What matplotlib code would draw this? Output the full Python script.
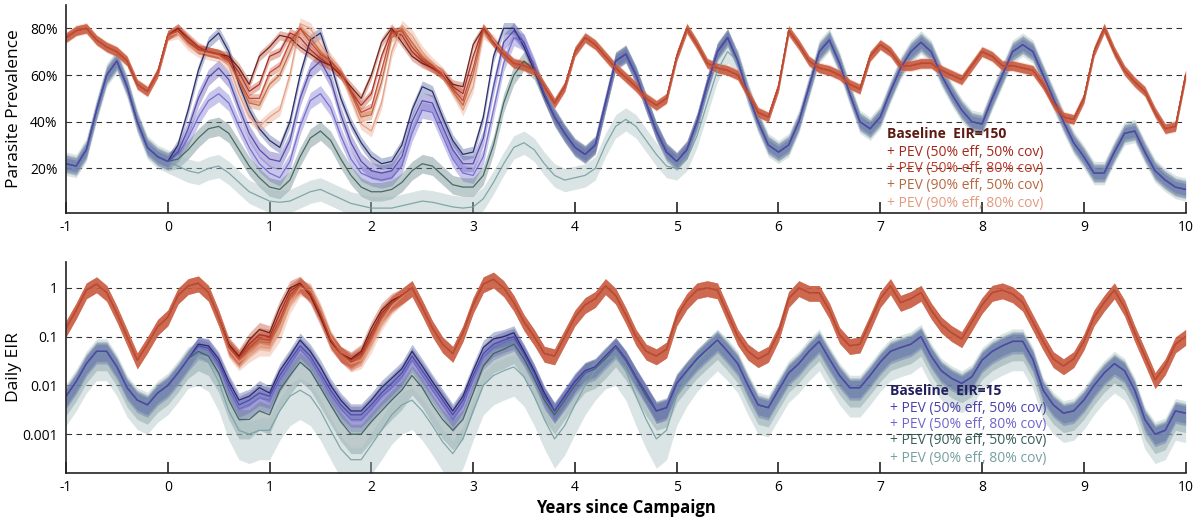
import numpy as np
import matplotlib
matplotlib.use("Agg")
import matplotlib.pyplot as plt
from matplotlib.ticker import FixedLocator, FixedFormatter, NullLocator

plt.rcParams['font.family'] = ['Open Sans', 'DejaVu Sans']
plt.rcParams['axes.unicode_minus'] = False

# time axis, 0.1-year steps from -1 to 10
years = np.round(np.arange(-1.0, 10.001, 0.1), 1)

labels = ['+ PEV (50% eff, 50% cov)', '+ PEV (50% eff, 80% cov)',
          '+ PEV (90% eff, 50% cov)', '+ PEV (90% eff, 80% cov)']

# ---- parasite prevalence (%) ----
prev150_base = [76, 79, 80, 75, 72, 70, 66, 56, 53, 61,
                77, 80, 75, 71, 70, 69, 68, 63, 56, 68,
                72, 77, 76, 72, 69, 66, 64, 60, 55, 50,
                60, 74, 80, 74, 68, 65, 63, 61, 56, 55,
                73, 80, 74, 69, 65, 64, 62, 55, 48, 55,
                70, 76, 73, 68, 63, 59, 55, 50, 47, 50,
                68, 80, 73, 65, 63, 62, 60, 52, 44, 42,
                55, 79, 73, 66, 63, 62, 60, 56, 54, 68,
                73, 70, 64, 64, 65, 65, 62, 60, 58, 64,
                70, 68, 64, 64, 63, 62, 56, 48, 42, 41,
                50, 70, 80, 70, 62, 57, 53, 44, 37, 38,
                60]
# intervention runs differ from baseline between t=0.0 and t=3.2
prev150_start = 0.0
prev150_pev = [
    [77, 80, 76, 72, 70, 69, 67, 61, 53, 56, 68, 70, 78, 76, 71, 67, 64,
     60, 53, 47, 52, 68, 79, 77, 70, 66, 63, 60, 55, 52, 68, 80, 74],
    [77, 79, 74, 71, 70, 69, 66, 58, 50, 50, 61, 64, 74, 80, 74, 69, 66,
     61, 53, 44, 46, 62, 78, 79, 72, 67, 64, 60, 54, 49, 63, 80, 74],
    [77, 79, 75, 71, 70, 69, 66, 57, 48, 47, 56, 60, 70, 80, 76, 70, 66,
     61, 52, 42, 43, 57, 76, 80, 74, 68, 64, 60, 53, 47, 60, 79, 74],
    [77, 78, 73, 70, 69, 68, 64, 52, 42, 38, 42, 45, 60, 82, 80, 73, 67,
     61, 50, 39, 36, 48, 70, 81, 77, 70, 65, 61, 53, 45, 55, 78, 75],
]

prev15_base = [22, 21, 28, 45, 60, 66, 55, 40, 29, 25,
               23, 30, 45, 62, 74, 78, 70, 56, 45, 37,
               32, 29, 40, 60, 75, 78, 65, 50, 39, 31,
               25, 22, 23, 30, 45, 55, 53, 42, 32, 26,
               27, 42, 68, 80, 80, 72, 62, 51, 42, 35,
               29, 26, 30, 48, 66, 69, 60, 48, 36, 27,
               23, 28, 40, 56, 70, 76, 66, 52, 40, 30,
               27, 30, 40, 55, 70, 75, 65, 52, 40, 37,
               42, 53, 63, 70, 74, 70, 60, 52, 45, 40,
               39, 50, 60, 70, 73, 70, 60, 50, 40, 31,
               25, 18, 18, 27, 35, 36, 27, 19, 15, 12,
               11]
prev15_start = 0.0
prev15_pev = [
    [23, 27, 37, 50, 59, 63, 58, 46, 35, 28,
     24, 23, 32, 50, 62, 66, 58, 43, 31, 23,
     19, 18, 19, 25, 40, 49, 48, 38, 28, 22,
     22, 33, 55, 74, 79, 74, 63, 52, 42, 35, 29],
    [23, 26, 33, 42, 49, 52, 48, 38, 29, 22,
     18, 16, 23, 38, 49, 52, 46, 34, 24, 18,
     16, 15, 16, 21, 35, 45, 44, 34, 24, 18,
     17, 25, 45, 65, 76, 74, 64, 52, 42, 35, 29],
    [23, 24, 28, 33, 37, 38, 35, 28, 21, 16,
     12, 11, 15, 25, 33, 36, 32, 24, 17, 12,
     10, 10, 11, 14, 19, 22, 21, 17, 13, 12,
     12, 17, 30, 48, 60, 66, 62, 52, 42, 35, 29],
    [23, 21, 19, 18, 20, 21, 18, 14, 10, 8,
     6, 5.5, 6, 8, 10, 11, 9, 7, 5, 4,
     3, 3, 3, 4, 5, 6, 5.5, 4.5, 3.5, 3,
     3.5, 7, 14, 22, 29, 31, 28, 22, 17, 15,
     16, 17, 20, 30, 38, 41, 38, 32, 26, 21,
     20, 24, 34, 48, 62, 70, 66],
]

# ---- daily EIR ----
eir150_base = [0.15, 0.35, 0.9, 1.2, 0.8, 0.3, 0.1, 0.033, 0.07, 0.16,
               0.25, 0.7, 1.1, 1.25, 0.8, 0.25, 0.07, 0.04, 0.085, 0.14,
               0.12, 0.4, 1.0, 1.25, 0.7, 0.25, 0.08, 0.045, 0.035, 0.05,
               0.15, 0.35, 0.55, 0.7, 1.0, 0.4, 0.15, 0.07, 0.045, 0.12,
               0.45, 1.2, 1.5, 1.0, 0.5, 0.2, 0.1, 0.045, 0.04, 0.1,
               0.25, 0.45, 0.6, 1.1, 0.7, 0.28, 0.1, 0.05, 0.04, 0.055,
               0.25, 0.55, 0.9, 1.0, 0.9, 0.3, 0.1, 0.05, 0.035, 0.045,
               0.12, 0.6, 1.0, 0.8, 0.8, 0.35, 0.11, 0.065, 0.07, 0.2,
               0.6, 1.1, 0.5, 0.6, 0.8, 0.35, 0.18, 0.12, 0.09, 0.2,
               0.45, 0.8, 0.9, 0.75, 0.5, 0.2, 0.08, 0.035, 0.025, 0.035,
               0.08, 0.25, 0.5, 0.9, 0.4, 0.12, 0.04, 0.013, 0.025, 0.07,
               0.1]
eir150_start = 0.6
eir150_pev = [
    [0.065, 0.038, 0.07, 0.11, 0.1, 0.3, 0.85, 1.2, 0.75,
     0.28, 0.085, 0.045, 0.033, 0.045, 0.12, 0.3, 0.5, 0.7],
    [0.06, 0.035, 0.06, 0.09, 0.085, 0.22, 0.7, 1.15, 0.8,
     0.3, 0.09, 0.045, 0.03, 0.04, 0.1, 0.26, 0.48, 0.7],
    [0.06, 0.034, 0.055, 0.08, 0.075, 0.18, 0.6, 1.1, 0.85,
     0.32, 0.09, 0.045, 0.03, 0.038, 0.09, 0.24, 0.46, 0.68],
    [0.055, 0.03, 0.045, 0.06, 0.06, 0.12, 0.45, 1.0, 0.9,
     0.35, 0.1, 0.045, 0.028, 0.033, 0.07, 0.2, 0.42, 0.66],
]

eir15_base = [0.006, 0.012, 0.028, 0.05, 0.05, 0.024, 0.009, 0.005, 0.004, 0.007,
              0.01, 0.018, 0.035, 0.07, 0.065, 0.035, 0.012, 0.005, 0.006, 0.009,
              0.007, 0.02, 0.04, 0.085, 0.05, 0.024, 0.01, 0.005, 0.003, 0.003,
              0.005, 0.009, 0.014, 0.022, 0.05, 0.025, 0.012, 0.006, 0.003, 0.006,
              0.02, 0.06, 0.09, 0.1, 0.12, 0.05, 0.02, 0.007, 0.003, 0.006,
              0.012, 0.02, 0.024, 0.04, 0.065, 0.035, 0.015, 0.007, 0.003, 0.0035,
              0.011, 0.02, 0.035, 0.055, 0.085, 0.05, 0.028, 0.01, 0.004, 0.0035,
              0.008, 0.018, 0.028, 0.05, 0.08, 0.035, 0.016, 0.009, 0.009, 0.016,
              0.03, 0.05, 0.06, 0.07, 0.1, 0.04, 0.02, 0.014, 0.011, 0.015,
              0.033, 0.05, 0.065, 0.08, 0.08, 0.034, 0.008, 0.004, 0.0027, 0.003,
              0.005, 0.01, 0.018, 0.028, 0.02, 0.008, 0.002, 0.001, 0.0012, 0.003,
              0.0027]
eir15_start = 0.3
eir15_pev = [
    [0.065, 0.058, 0.03, 0.01, 0.004, 0.005, 0.007, 0.006, 0.016, 0.033,
     0.065, 0.04, 0.018, 0.008, 0.004, 0.0025, 0.0025, 0.004, 0.007, 0.011,
     0.018, 0.04, 0.02, 0.01, 0.005, 0.0025, 0.005, 0.016, 0.045, 0.07,
     0.085, 0.1, 0.045, 0.018, 0.006, 0.003, 0.006, 0.012, 0.02, 0.024,
     0.04, 0.065, 0.035, 0.015, 0.007, 0.003, 0.0035, 0.011, 0.02, 0.035,
     0.055, 0.085],
    [0.06, 0.052, 0.026, 0.008, 0.0033, 0.004, 0.0055, 0.005, 0.013, 0.027,
     0.055, 0.033, 0.015, 0.0065, 0.0033, 0.002, 0.002, 0.0033, 0.006, 0.009,
     0.015, 0.033, 0.016, 0.008, 0.004, 0.002, 0.004, 0.013, 0.038, 0.06,
     0.075, 0.09, 0.042, 0.017, 0.006, 0.003, 0.0055, 0.011, 0.019, 0.023,
     0.038, 0.062, 0.034, 0.015, 0.007, 0.003, 0.0035, 0.011, 0.02, 0.035,
     0.055, 0.085],
    [0.05, 0.04, 0.018, 0.005, 0.002, 0.002, 0.003, 0.0025, 0.008, 0.016,
     0.03, 0.02, 0.009, 0.004, 0.0018, 0.001, 0.001, 0.0018, 0.003, 0.005,
     0.008, 0.016, 0.009, 0.004, 0.002, 0.0012, 0.002, 0.007, 0.025, 0.045,
     0.055, 0.07, 0.035, 0.014, 0.005, 0.0025, 0.005, 0.01, 0.018, 0.022,
     0.035, 0.06, 0.032, 0.014, 0.006, 0.003, 0.0035, 0.011, 0.02, 0.035,
     0.055, 0.085],
    [0.04, 0.03, 0.012, 0.003, 0.0012, 0.001, 0.0012, 0.0012, 0.003, 0.006,
     0.008, 0.006, 0.003, 0.0012, 0.0005, 0.0003, 0.0003, 0.0006, 0.0012, 0.0025,
     0.004, 0.005, 0.003, 0.0015, 0.0007, 0.0004, 0.0008, 0.003, 0.01, 0.016,
     0.02, 0.024, 0.015, 0.006, 0.002, 0.0008, 0.0015, 0.004, 0.01, 0.02,
     0.034, 0.04, 0.02, 0.006, 0.002, 0.0008, 0.0012, 0.006, 0.015, 0.03,
     0.05, 0.08],
]

# uncertainty band: +- points for prevalence, (down, up) factors for EIR
prev150_band = [2.0, 2.0, 2.0, 2.0, 2.5]
prev15_band = [2.5, 3.5, 3.5, 4.0, 5.0]
eir150_band = [(1.5, 1.4)] * 5
eir15_band = [(1.6, 1.4), (1.8, 1.5), (1.8, 1.5), (2.5, 1.6), (4.0, 1.8)]

red_colors = ['#5c1a12', '#a3281c', '#c0402c', '#b8683e', '#e39a7e']
red_fill = ['#c24a32', '#c44a32', '#cf5c3e', '#d6774f', '#eaa58c']
blue_colors = ['#221f5e', '#4a42a8', '#6f66cc', '#3a5f59', '#76a0a2']
blue_fill = ['#5266a0', '#5a52b4', '#7a72d0', '#5d7f84', '#a5bcc0']

# drawing order of the lines (last one sits on top where runs overlap)
red_order = [0, 1, 4, 3, 2]
blue_order = [0, 4, 3, 2, 1]


def splice(base, start, window):
    s = np.array(base, dtype=float)
    i = int(np.argmin(np.abs(years - start)))
    s[i:i + len(window)] = window
    return s


def build(base, start, windows):
    return [np.array(base, dtype=float)] + [splice(base, start, w) for w in windows]


def draw_group(ax, series, colors, fills, bands, order, log=False):
    for k in order[::-1]:
        s, b = series[k], bands[k]
        if log:
            lo, hi = s / b[0], s * b[1]
        else:
            lo, hi = s - b, s + b
        ax.fill_between(years, lo, hi, color=fills[k], alpha=0.4, lw=0)
    for k in order:
        ax.plot(years, series[k], color=colors[k], lw=0.9, alpha=0.9)


def legend_text(ax, x, ys, title, colors):
    ax.text(x, ys[0], title, transform=ax.transAxes, color=colors[0],
            fontsize=10, fontweight='bold', va='center')
    for y, lab, c in zip(ys[1:], labels, colors[1:]):
        ax.text(x, y, lab, transform=ax.transAxes, color=c, fontsize=10, va='center')


def style_axis(ax):
    for side in ['top', 'right']:
        ax.spines[side].set_visible(False)
    for side in ['left', 'bottom']:
        ax.spines[side].set_linewidth(1.2)
        ax.spines[side].set_color('#222222')
    ax.set_xlim(-1, 10)
    ax.set_xticks(range(-1, 11))
    ax.tick_params(axis='x', direction='in', length=8, width=1.2, pad=5,
                   labelsize=10, color='#222222')
    ax.tick_params(axis='y', length=0, pad=6, labelsize=10)
    ax.yaxis.grid(True, linestyle=(0, (5, 4)), color='#333333', lw=0.8)
    ax.set_axisbelow(True)


fig = plt.figure(figsize=(12, 5.19), dpi=100)
ax1 = fig.add_axes([0.055, 0.5896, 0.933, 0.4008])
ax2 = fig.add_axes([0.055, 0.0886, 0.933, 0.4066])

# top: prevalence
draw_group(ax1, build(prev15_base, prev15_start, prev15_pev),
           blue_colors, blue_fill, prev15_band, blue_order)
draw_group(ax1, build(prev150_base, prev150_start, prev150_pev),
           red_colors, red_fill, prev150_band, red_order)
style_axis(ax1)
ax1.set_ylim(0.9, 90)
ax1.set_yticks([20, 40, 60, 80])
ax1.set_yticklabels(['20%', '40%', '60%', '80%'])
ax1.set_ylabel('Parasite Prevalence', fontsize=12.5)
ax1.yaxis.set_label_coords(-0.039, 0.5)
legend_text(ax1, 0.733, [0.38, 0.293, 0.212, 0.130, 0.048],
            'Baseline  EIR=150', red_colors)

# bottom: daily EIR
draw_group(ax2, build(eir15_base, eir15_start, eir15_pev),
           blue_colors, blue_fill, eir15_band, blue_order, log=True)
draw_group(ax2, build(eir150_base, eir150_start, eir150_pev),
           red_colors, red_fill, eir150_band, red_order, log=True)
ax2.set_yscale('log')
style_axis(ax2)
ax2.set_ylim(1.6e-4, 3.4)
ax2.yaxis.set_major_locator(FixedLocator([0.001, 0.01, 0.1, 1]))
ax2.yaxis.set_major_formatter(FixedFormatter(['0.001', '0.01', '0.1', '1']))
ax2.yaxis.set_minor_locator(NullLocator())
ax2.set_ylabel('Daily EIR', fontsize=12.5)
ax2.yaxis.set_label_coords(-0.039, 0.5)
ax2.set_xlabel('Years since Campaign', fontsize=12, fontweight='bold', labelpad=3)
legend_text(ax2, 0.736, [0.389, 0.308, 0.232, 0.152, 0.071],
            'Baseline  EIR=15', blue_colors)

fig.savefig('out.png', dpi=100)
